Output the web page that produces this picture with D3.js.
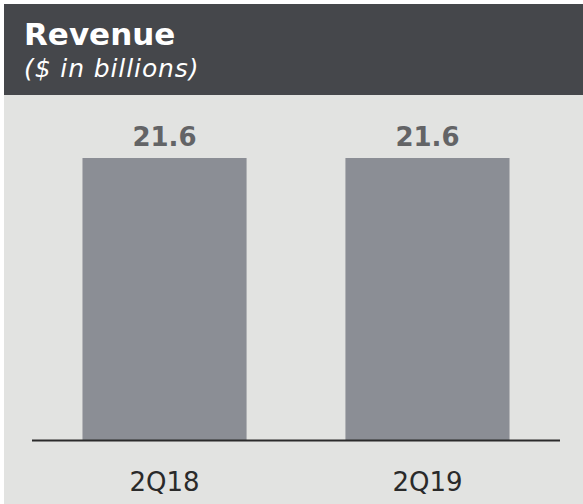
<!DOCTYPE html>
<html lang="en">

<head>
    <meta charset="UTF-8">
    <title>Revenue</title>
    <style>
        body { margin: 0; background: #fff; }
        svg text { font-family: "DejaVu Sans", Verdana, sans-serif; }
    </style>
</head>

<body>
    <script src='https://d3js.org/d3.v7.min.js'></script>
    <script>
        var quarters = ["2Q18", "2Q19"];
        var revenue = [21.6, 21.6];

        var width = 583, height = 504;
        var svg = d3.select("body")
            .append("svg")
            .attr("width", width)
            .attr("height", height);

        // panel + header band
        svg.append("rect").attr("x", 4).attr("y", 4).attr("width", width - 4).attr("height", height - 4).attr("fill", "#e2e3e1");
        svg.append("rect").attr("x", 4).attr("y", 4).attr("width", width - 4).attr("height", 91).attr("fill", "#45474b");

        svg.append("text")
            .attr("x", 24).attr("y", 45)
            .attr("fill", "#ffffff")
            .style("font-weight", "bold")
            .style("font-size", "31px")
            .text("Revenue");
        svg.append("text")
            .attr("x", 24).attr("y", 77)
            .attr("fill", "#ffffff")
            .style("font-style", "italic")
            .style("font-size", "25px")
            .style("letter-spacing", "0.9px")
            .text("($ in billions)");

        var x = d3.scaleBand()
            .domain(quarters)
            .range([32, 560])
            .paddingInner(0.376)
            .paddingOuter(0.192);

        var y = d3.scaleLinear()
            .domain([0, 21.6])
            .range([440, 158]);

        var data = quarters.map(function (q, i) { return { q: q, v: revenue[i] }; });

        svg.selectAll(".bar")
            .data(data)
            .enter()
            .append("rect")
            .attr("class", "bar")
            .attr("x", function (d) { return x(d.q); })
            .attr("y", function (d) { return y(d.v); })
            .attr("width", x.bandwidth())
            .attr("height", function (d) { return y(0) - y(d.v); })
            .attr("fill", "#8b8e95");

        svg.selectAll(".val")
            .data(data)
            .enter()
            .append("text")
            .attr("class", "val")
            .attr("x", function (d) { return x(d.q) + x.bandwidth() / 2; })
            .attr("y", function (d) { return y(d.v) - 12; })
            .attr("text-anchor", "middle")
            .attr("fill", "#636466")
            .style("font-weight", "bold")
            .style("font-size", "26px")
            .text(function (d) { return d.v.toFixed(1); });

        // baseline
        svg.append("line")
            .attr("x1", 32).attr("x2", 560)
            .attr("y1", y(0) + 0.5).attr("y2", y(0) + 0.5)
            .attr("stroke", "#2b2b2b")
            .attr("stroke-width", 2);

        var axis = svg.append("g")
            .attr("transform", "translate(0," + y(0) + ")")
            .call(d3.axisBottom(x).tickSize(0).tickPadding(33));
        axis.select(".domain").remove();
        axis.selectAll("text")
            .attr("fill", "#2a2a2a")
            .style("font-family", "'DejaVu Sans', Verdana, sans-serif")
            .style("font-size", "26px");
    </script>
</body>

</html>
